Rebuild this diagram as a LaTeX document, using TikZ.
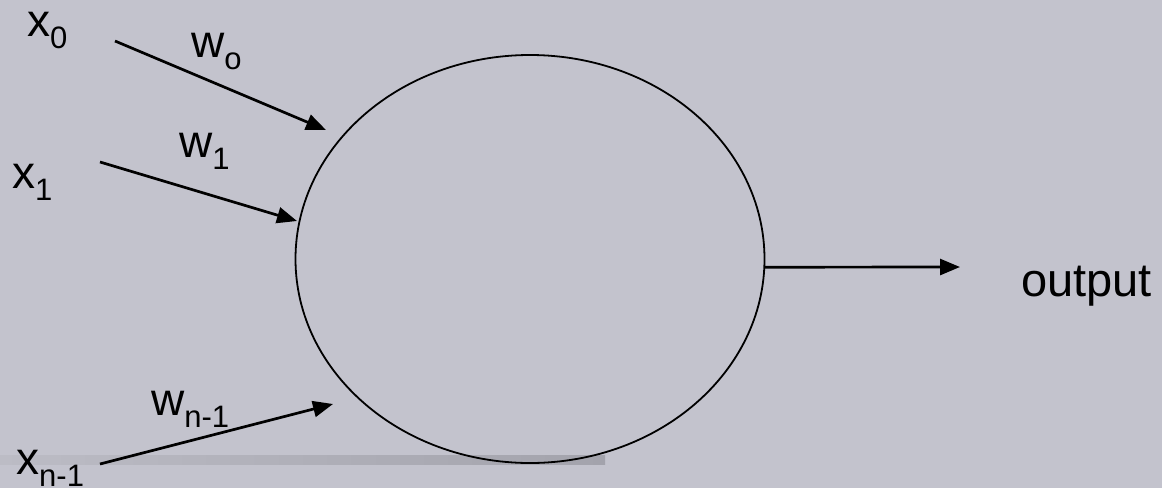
\documentclass[tikz,border=0pt]{standalone}
\usepackage{fontspec}
\setmainfont{Liberation Sans}
\usetikzlibrary{shapes.geometric,arrows.meta}
\definecolor{bgcol}{RGB}{195,195,205}
\definecolor{barlight}{RGB}{188,188,197}
\definecolor{bardark}{RGB}{163,163,172}
\newcommand\sublbl[2]{#1\raisebox{-12pt}{\fontsize{31}{31}\selectfont #2}}
\tikzset{
  lbl/.style={inner sep=0pt, anchor=base west, font=\fontsize{46}{50}\selectfont},
  wire/.style={line width=2.7pt, -{Triangle[length=20pt,width=16pt]}},
  cell/.style={ellipse, draw, line width=1.8pt, inner sep=0pt, minimum width=469pt, minimum height=408pt}
}
\begin{document}
\begin{tikzpicture}[x=1pt,y=-1pt]
\useasboundingbox (0,0) rectangle (1162,488);
\fill[bgcol] (0,0) rectangle (1162,488);
\shade[left color=barlight, right color=bardark] (0,455) rectangle (605,464);
\node[cell] (neuron) at (530,259) {};
% labels
\node[lbl] (x0) at (27,36) {\sublbl{x}{0}};
\node[lbl] (w0) at (191,57) {\sublbl{w}{o}};
\node[lbl] (x1) at (12,188) {\sublbl{x}{1}};
\node[lbl] (w1) at (179,157) {\sublbl{w}{1}};
\node[lbl] (xn) at (16,474) {\sublbl{x}{n-1}};
\node[lbl] (wn) at (151,415) {\sublbl{w}{n-1}};
\node[lbl, font=\fontsize{47}{50}\selectfont] (out) at (1021,296) {output};
% connector ends
\coordinate (s0) at (115,41);
\coordinate (t0) at (326,130);
\coordinate (s1) at (100,162);
\coordinate (t1) at (297,221);
\coordinate (s2) at (100,464);
\coordinate (t2) at (333,404);
\coordinate (oend) at (960,267);
\draw[wire] (s0) -- (t0);
\draw[wire] (s1) -- (t1);
\draw[wire] (s2) -- (t2);
\draw[wire] (neuron.-2) -- (oend);
\end{tikzpicture}
\end{document}
